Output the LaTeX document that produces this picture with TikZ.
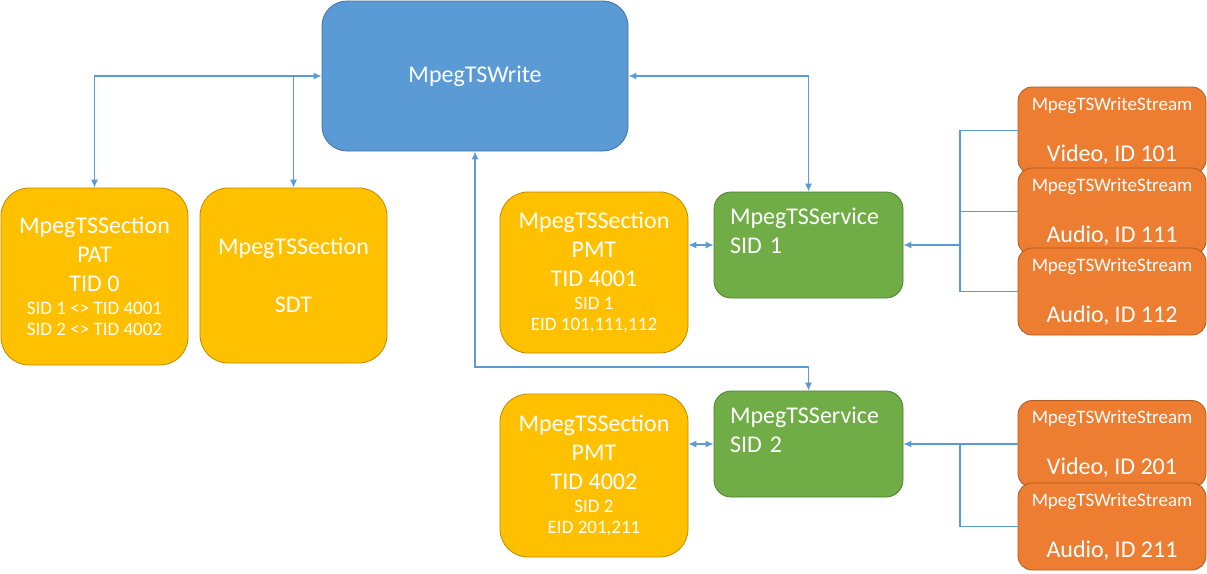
\documentclass[tikz,border=0pt]{standalone}
\usepackage{fontspec}
\setmainfont{Carlito}
\usetikzlibrary{arrows.meta}
\definecolor{writefill}{HTML}{5B9BD5}
\definecolor{writedraw}{HTML}{41719C}
\definecolor{secfill}{HTML}{FFC000}
\definecolor{secdraw}{HTML}{BC8C00}
\definecolor{svcfill}{HTML}{70AD47}
\definecolor{svcdraw}{HTML}{507E32}
\definecolor{strfill}{HTML}{ED7D31}
\definecolor{strdraw}{HTML}{AE5A21}
\definecolor{linkcol}{HTML}{5B9BD5}
\newcommand\smalltxt[1]{{\fontsize{19}{22}\selectfont #1}}
\tikzset{
  box/.style={draw, line width=0.8pt, text=white, inner sep=0pt, align=center,
    font=\fontsize{24}{29}\selectfont},
  writebox/.style={box, fill=writefill, draw=writedraw, minimum width=306pt, minimum height=150pt, rounded corners=25pt},
  secbox/.style={box, fill=secfill, draw=secdraw, minimum width=187pt, rounded corners=28pt},
  svcbox/.style={box, fill=svcfill, draw=svcdraw, minimum height=106pt, align=left,
    text width=157pt, inner xsep=16pt, rounded corners=17pt},
  strbox/.style={box, fill=strfill, draw=strdraw, minimum width=188pt, minimum height=87pt, rounded corners=14pt},
  link/.style={draw=linkcol, line width=1.2pt},
  tip/.style={-{Latex[length=8pt,width=7pt]}},
  tips/.style={{Latex[length=8pt,width=7pt]}-{Latex[length=8pt,width=7pt]}},
}
\begin{document}
\begin{tikzpicture}[x=1pt,y=-1pt]
\useasboundingbox (0,0) rectangle (1207,573);

\node[writebox] (write) at (475,76) {MpegTSWrite};

\node[secbox, minimum height=177pt] (pat) at (94.5,276.5)
  {MpegTSSection\\PAT\\TID 0\\[-6pt]\smalltxt{SID 1 <> TID 4001}\\[-8pt]\smalltxt{SID 2 <> TID 4002}};
\node[secbox, minimum height=175pt] (sdt) at (293.5,275.5)
  {MpegTSSection\\[29pt]SDT};

\node[secbox, minimum width=188pt, minimum height=161pt] (pmt1) at (594,272.5)
  {MpegTSSection\\PMT\\TID 4001\\[-6pt]\smalltxt{SID 1}\\[-8pt]\smalltxt{EID 101,111,112}};
\node[secbox, minimum width=188pt, minimum height=163pt] (pmt2) at (594,475.5)
  {MpegTSSection\\PMT\\TID 4002\\[-6pt]\smalltxt{SID 2}\\[-8pt]\smalltxt{EID 201,211}};

\node[svcbox] (svc1) at (808.5,245) {MpegTSService\\SID 1\\\mbox{}};
\node[svcbox] (svc2) at (808.5,444) {MpegTSService\\SID 2\\\mbox{}};

\node[strbox] (s1) at (1112,130.5) {\smalltxt{MpegTSWriteStream}\\[22pt]Video, ID 101};
\node[strbox] (s2) at (1112,211.5) {\smalltxt{MpegTSWriteStream}\\[22pt]Audio, ID 111};
\node[strbox] (s3) at (1112,291.5) {\smalltxt{MpegTSWriteStream}\\[22pt]Audio, ID 112};
\node[strbox] (s4) at (1112,444) {\smalltxt{MpegTSWriteStream}\\[22pt]Video, ID 201};
\node[strbox] (s5) at (1112,526.5) {\smalltxt{MpegTSWriteStream}\\[22pt]Audio, ID 211};

\coordinate (bend) at (808.5,367);
\coordinate (j1) at (960,245);
\coordinate (j2) at (960,444);

% MpegTSWrite <-> sections and services
\draw[link, tips] (pat.north) |- (write.west);
\draw[link, tip] (sdt.north |- write.west) -- (sdt.north);
\draw[link, tips] (write.east) -| (svc1.north);
\draw[link, tips] (write.south) |- (bend) -- (svc2.north);

% PMT <-> service
\draw[link, tips] (svc1.west -| pmt1.east) -- (svc1.west);
\draw[link, tips] (svc2.west -| pmt2.east) -- (svc2.west);

% streams -> service 1
\draw[link] (s1.west) -| (j1);
\draw[link] (s3.west) -| (j1);
\draw[link] (s2.west) -- (s2.west -| j1);
\draw[link, tip] (j1) -- (svc1.east);

% streams -> service 2
\draw[link] (s5.west) -| (j2);
\draw[link, tip] (s4.west) -- (svc2.east);
\end{tikzpicture}
\end{document}
